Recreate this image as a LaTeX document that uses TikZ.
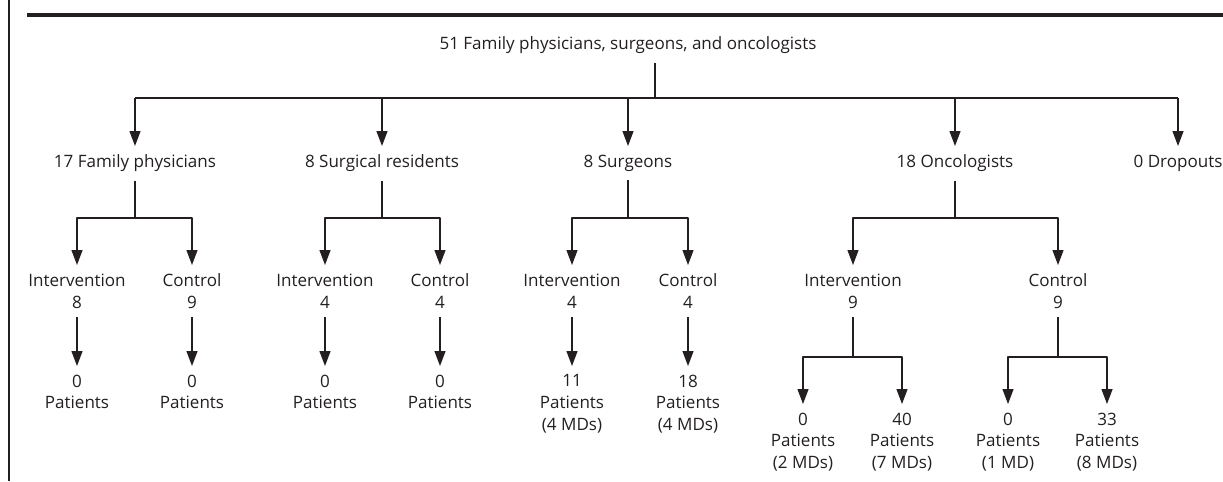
\documentclass[tikz,border=0pt]{standalone}
\usepackage{fontspec}
\setmainfont{Open Sans}
\usetikzlibrary{arrows.meta}
\definecolor{ink}{HTML}{231F20}

\begin{document}
\begin{tikzpicture}[x=0.02cm,y=-0.02cm,>={Triangle[length=0.3cm,width=0.22cm]},
	line join=round,color=ink,line width=0.7pt,font=\fontsize{9.7}{12.4}\selectfont,
	lbl/.style={anchor=north,inner sep=0pt,outer sep=5pt,align=center}]
	\useasboundingbox (0,0) rectangle (1223,481);
	\draw (9,0)--(9,481);
	\draw[line width=2.3pt] (27,15)--(1223,15);
	% level 0 and 1
	\node[lbl] (top) at (628,28) {51 Family physicians, surgeons, and oncologists};
	\coordinate (hub) at (655,98);
	\node[lbl] (fam) at (135,146) {17 Family physicians};
	\node[lbl] (res) at (382,146) {8 Surgical residents};
	\node[lbl] (surg) at (628,146) {8 Surgeons};
	\node[lbl] (onc) at (955,146) {18 Oncologists};
	\node[lbl] (drop) at (1178,146) {0 Dropouts};
	\draw (hub |- top.south)--(hub);
	\draw (fam |- hub)--(drop |- hub);
	\foreach \n in {fam,res,surg,onc,drop}
		\draw[->] (\n |- hub)--(\n.north);
	% level 2
	\node[lbl] (famI) at (77,265) {Intervention\\8};
	\node[lbl] (famC) at (192,265) {Control\\9};
	\node[lbl] (resI) at (325,265) {Intervention\\4};
	\node[lbl] (resC) at (440,265) {Control\\4};
	\node[lbl] (surgI) at (572,265) {Intervention\\4};
	\node[lbl] (surgC) at (688,265) {Control\\4};
	\node[lbl] (oncI) at (853,265) {Intervention\\9};
	\node[lbl] (oncC) at (1058,265) {Control\\9};
	\coordinate (famS) at (135,218);
	\coordinate (resS) at (382,218);
	\coordinate (surgS) at (628,218);
	\coordinate (oncS) at (955,218);
	\foreach \n in {fam,res,surg,onc}{
		\draw (\n.south)--(\n S);
		\draw[->] (\n S) -| (\n I.north);
		\draw[->] (\n S) -| (\n C.north);
	}
	% level 3
	\node[lbl] (famIp) at (77,366) {0\\Patients};
	\node[lbl] (famCp) at (192,366) {0\\Patients};
	\node[lbl] (resIp) at (325,366) {0\\Patients};
	\node[lbl] (resCp) at (440,366) {0\\Patients};
	\node[lbl] (surgIp) at (572,366) {11\\Patients\\(4 MDs)};
	\node[lbl] (surgCp) at (688,366) {18\\Patients\\(4 MDs)};
	\foreach \n in {famI,famC,resI,resC,surgI,surgC}
		\draw[->] (\n.south)--(\n p.north);
	\node[lbl] (oncIa) at (803,404) {0\\Patients\\(2 MDs)};
	\node[lbl] (oncIb) at (902,404) {40\\Patients\\(7 MDs)};
	\node[lbl] (oncCa) at (1008,404) {0\\Patients\\(1 MD)};
	\node[lbl] (oncCb) at (1107,404) {33\\Patients\\(8 MDs)};
	\coordinate (oncIS) at (853,357);
	\coordinate (oncCS) at (1058,357);
	\foreach \n in {oncI,oncC}{
		\draw (\n.south)--(\n S);
		\draw[->] (\n S) -| (\n a.north);
		\draw[->] (\n S) -| (\n b.north);
	}
\end{tikzpicture}
\end{document}
